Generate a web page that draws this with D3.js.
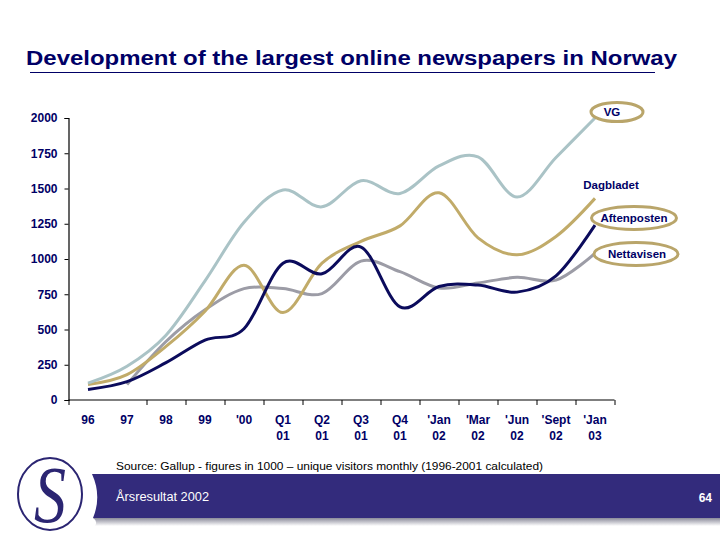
<!DOCTYPE html>
<html>
<head>
<meta charset="utf-8">
<script src="https://cdn.jsdelivr.net/npm/d3@7"></script>
<style>
  html, body { margin: 0; padding: 0; background: #fff; }
  svg { display: block; font-family: "Liberation Sans", Arial, sans-serif; }
</style>
</head>
<body>
<div id="chart"></div>
<script>
// ---- data ----
const categories = ["96", "97", "98", "99", "'00", "Q1 01", "Q2 01", "Q3 01", "Q4 01", "'Jan 02", "'Mar 02", "'Jun 02", "'Sept 02", "'Jan 03"];
const vg          = [120, 240, 460, 845, 1260, 1490, 1370, 1555, 1465, 1660, 1725, 1440, 1720, 2000];
const dagbladet   = [110, 180, 380, 630, 955, 620, 970, 1125, 1235, 1470, 1150, 1030, 1160, 1430];
const aftenposten = [75, 130, 265, 425, 505, 970, 895, 1085, 660, 805, 815, 765, 880, 1240];
const nettavisen  = [null, 110, 415, 640, 790, 790, 755, 985, 910, 795, 830, 870, 850, 1040];
const yTicks = [0, 250, 500, 750, 1000, 1250, 1500, 1750, 2000];
const seriesNames = ["VG", "Dagbladet", "Aftenposten", "Nettavisen"];

const title = "Development of the largest online newspapers in Norway";
const source = "Source: Gallup - figures in 1000 \u2013 unique visitors monthly (1996-2001 calculated)";
const footerLeft = "\u00c5rsresultat 2002";
const pageNo = "64";

// ---- layout ----
const W = 720, H = 540;
const navy = "#000066";
const svg = d3.select("#chart").append("svg").attr("width", W).attr("height", H);

// title
svg.append("text").attr("x", 26).attr("y", 65)
  .attr("font-size", 20).attr("font-weight", "bold").attr("fill", navy)
  .attr("textLength", 651).attr("lengthAdjust", "spacingAndGlyphs")
  .text(title);
svg.append("line").attr("x1", 30).attr("x2", 655).attr("y1", 72.5).attr("y2", 72.5)
  .attr("stroke", navy).attr("stroke-width", 1);

// scales
const plotL = 68.5, plotR = 614.5, plotT = 118, plotB = 400;
const x = d3.scaleBand().domain(categories).range([plotL, plotR]);
const xb = d3.scaleLinear().domain([0, categories.length]).range([plotL, plotR]);
const y = d3.scaleLinear().domain([0, 2000]).range([plotB, plotT]);
const xc = c => x(c) + x.bandwidth() / 2;

// y axis
const gy = svg.append("g").attr("transform", `translate(${plotL},0)`)
  .call(d3.axisLeft(y).tickValues(yTicks).tickSize(4).tickPadding(7).tickFormat(d3.format("d")));
gy.select(".domain").attr("stroke", "#000").attr("stroke-width", 1.2);
gy.selectAll(".tick line").attr("stroke", "#000");
gy.selectAll("text").attr("font-size", 12).attr("font-weight", "bold").attr("fill", navy)
  .attr("font-family", "'Liberation Sans', Arial, sans-serif");

// x axis (ticks at category boundaries)
const boundaryTicks = d3.range(categories.length + 1).filter(i => i !== 1);
const gx = svg.append("g").attr("transform", `translate(0,${plotB})`)
  .call(d3.axisBottom(xb).tickValues(boundaryTicks).tickSize(5).tickFormat(""));
gx.select(".domain").attr("stroke", "#000").attr("stroke-width", 1.2)
  .attr("d", `M${plotL},0H${plotR}`);
gx.selectAll(".tick line").attr("stroke", "#000");

const gxl = svg.append("g").attr("transform", `translate(0,${plotB})`)
  .call(d3.axisBottom(x).tickSize(0).tickPadding(0).tickFormat(""));
gxl.select(".domain").remove();
gxl.selectAll(".tick").each(function(d) {
  const parts = d.split(" ");
  const t = d3.select(this).append("text")
    .attr("font-size", 12).attr("font-weight", "bold").attr("fill", navy)
    .attr("text-anchor", "middle")
    .attr("font-family", "'Liberation Sans', Arial, sans-serif");
  parts.forEach((p, i) => t.append("tspan").attr("x", 0).attr("y", 24 + i * 16).text(p));
});

// lines
const line = d3.line()
  .defined(d => d.v != null)
  .x(d => xc(d.c)).y(d => y(d.v))
  .curve(d3.curveCatmullRom.alpha(0));
const seriesData = [
  { name: "Nettavisen", values: nettavisen, color: "#9c9ca6" },
  { name: "Dagbladet", values: dagbladet, color: "#c1ab69" },
  { name: "VG", values: vg, color: "#aac3c6" },
  { name: "Aftenposten", values: aftenposten, color: "#0b0b5c" }
];
svg.append("g").selectAll("path").data(seriesData).join("path")
  .attr("fill", "none")
  .attr("stroke", d => d.color)
  .attr("stroke-width", 3)
  .attr("stroke-linejoin", "round")
  .attr("d", d => line(d.values.map((v, i) => ({ c: categories[i], v }))));

// series labels
const labelInfo = [
  { name: seriesNames[0], cx: 617, cy: 112, rx: 26, ry: 9.5, tx: 612, ellipse: true },
  { name: seriesNames[1], cx: 611, cy: 185, tx: 611, ellipse: false },
  { name: seriesNames[2], cx: 634, cy: 218, rx: 42.5, ry: 11.5, tx: 634, ellipse: true },
  { name: seriesNames[3], cx: 636, cy: 254, rx: 42, ry: 11.5, tx: 637, ellipse: true }
];
const lg = svg.append("g");
labelInfo.forEach(l => {
  if (l.ellipse) {
    lg.append("ellipse").attr("cx", l.cx).attr("cy", l.cy).attr("rx", l.rx).attr("ry", l.ry)
      .attr("fill", "#fff").attr("stroke", "#b9a56a").attr("stroke-width", 3);
  }
  lg.append("text").attr("x", l.tx).attr("y", l.cy + 4)
    .attr("text-anchor", "middle").attr("font-size", 11.5).attr("font-weight", "bold")
    .attr("fill", navy).text(l.name);
});

// footer
svg.append("text").attr("x", 116).attr("y", 470)
  .attr("font-size", 11).attr("fill", "#000")
  .attr("textLength", 427).attr("lengthAdjust", "spacingAndGlyphs")
  .text(source);

const defs = svg.append("defs");
const grad = defs.append("linearGradient").attr("id", "shadow").attr("x1", 0).attr("x2", 0).attr("y1", 0).attr("y2", 1);
grad.append("stop").attr("offset", "0%").attr("stop-color", "#8a8a9a");
grad.append("stop").attr("offset", "100%").attr("stop-color", "#ffffff");
svg.append("path").attr("d", "M93,518 Q98,521 95,526 L720,526 L720,518 Z").attr("fill", "url(#shadow)");
svg.append("path").attr("d", "M92,474 Q102,496 93,518 L720,518 L720,474 Z").attr("fill", "#332b7c");

svg.append("text").attr("x", 116).attr("y", 501)
  .attr("font-size", 12).attr("fill", "#fff")
  .attr("textLength", 93).attr("lengthAdjust", "spacingAndGlyphs")
  .text(footerLeft);
svg.append("text").attr("x", 712).attr("y", 502).attr("text-anchor", "end")
  .attr("font-size", 12).attr("font-weight", "bold").attr("fill", "#fff").text(pageNo);

// logo
svg.append("ellipse").attr("cx", 50).attr("cy", 494).attr("rx", 32).attr("ry", 36)
  .attr("fill", "#fff").attr("stroke", "#2b2572").attr("stroke-width", 2);
svg.append("text").attr("x", 50).attr("y", 522).attr("text-anchor", "middle")
  .attr("font-family", "'Liberation Serif', 'DejaVu Serif', serif")
  .attr("font-style", "italic").attr("font-size", 80).attr("fill", "#2b2572")
  .attr("transform", "translate(50,0) scale(0.8,1) translate(-50,0)")
  .text("S");
</script>
</body>
</html>
